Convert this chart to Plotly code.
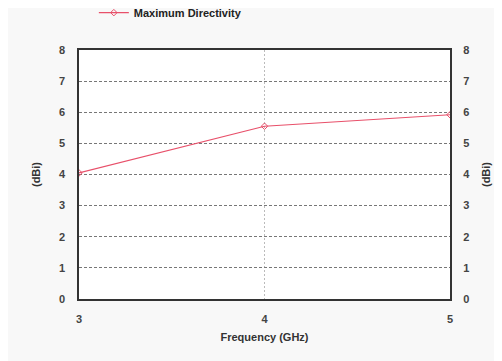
import plotly.graph_objects as go

freq = [3, 4, 5]
directivity = [4.05, 5.55, 5.92]
y_ticks = [0, 1, 2, 3, 4, 5, 6, 7, 8]
x_ticks = [3, 4, 5]

FONT = "Arial, Liberation Sans, sans-serif"

fig = go.Figure()
fig.add_trace(go.Scatter(
    x=freq, y=directivity, mode="lines+markers", name="Maximum Directivity",
    line=dict(color="#e8506a", width=1.2),
    marker=dict(symbol="diamond-open", size=5, color="#e8506a", line=dict(width=1)),
))
fig.add_trace(go.Scatter(x=freq, y=directivity, yaxis="y2", mode="lines",
                         line=dict(width=0), opacity=0, showlegend=False, hoverinfo="skip"))

tickfont = dict(family=FONT, size=11, color="#444", weight="bold")
titlefont = dict(family=FONT, size=11, color="#333", weight="bold")
fig.update_layout(
    width=502, height=361,
    margin=dict(l=71, r=60, t=42, b=70, autoexpand=False),
    paper_bgcolor="#f8f8f8", plot_bgcolor="#ffffff",
    showlegend=True,
    legend=dict(x=0.04, y=1.15, xanchor="left", yanchor="middle",
                font=dict(family=FONT, size=11, color="#222", weight="bold"),
                bgcolor="rgba(0,0,0,0)"),
    xaxis=dict(range=[3, 5], tickvals=x_ticks, tickfont=tickfont,
               title=dict(text="Frequency (GHz)", font=titlefont, standoff=9),
               showline=True, linecolor="#333", linewidth=1.5, mirror=True,
               zeroline=False, ticks="outside", ticklen=9, tickcolor="rgba(0,0,0,0)",
               showgrid=True, gridcolor="#bbb", griddash="2px,2px", gridwidth=1),
    yaxis=dict(range=[0, 8], tickvals=y_ticks, tickfont=tickfont,
               title=dict(text="(dBi)", font=titlefont, standoff=16),
               showline=True, linecolor="#333", linewidth=1.5, mirror=True,
               zeroline=False, ticks="outside", ticklen=10, tickcolor="rgba(0,0,0,0)",
               showgrid=True, gridcolor="#777", griddash="3px,2px", gridwidth=1),
    yaxis2=dict(range=[0, 8], tickvals=y_ticks, tickfont=tickfont, overlaying="y", side="right",
                title=dict(text="(dBi)", font=titlefont, standoff=13),
                showgrid=False, zeroline=False,
                ticks="outside", ticklen=10, tickcolor="rgba(0,0,0,0)"),
)
fig.write_html("out.html")
